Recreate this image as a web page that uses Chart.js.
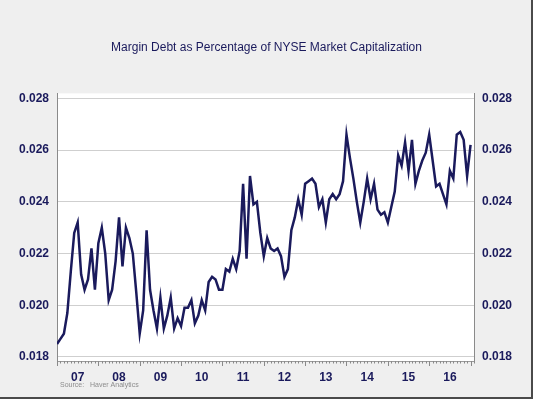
<!DOCTYPE html>
<html>
<head>
<meta charset="utf-8">
<script src="https://cdn.jsdelivr.net/npm/chart.js@4"></script>
<style>
  html, body { margin: 0; padding: 0; background: #efefef; }
  #chart { display: block; }
</style>
</head>
<body>
<canvas id="chart" width="533" height="399"></canvas>
<script>
// monthly margin debt / NYSE market cap, Jan 2007 .. Jan 2017
const startYear = 2007;
const marginDebt = [
  0.0185, 0.0187, 0.0189, 0.0197, 0.0213, 0.0228, 0.0232, 0.0212, 0.0206, 0.0210, 0.0222, 0.0206,
  0.0224, 0.0230, 0.0220, 0.0202, 0.0206, 0.0217, 0.0234, 0.0215, 0.0230, 0.0226, 0.0220, 0.0205,
  0.0189, 0.0198, 0.0229, 0.0206, 0.0198, 0.0191, 0.0203, 0.0191, 0.0196, 0.0203, 0.0191, 0.0195,
  0.0192, 0.0199, 0.0199, 0.0202, 0.0193, 0.0196, 0.0202, 0.0198, 0.0209, 0.0211, 0.0210, 0.0206,
  0.0206, 0.0214, 0.0213, 0.0218, 0.0214, 0.0221, 0.0247, 0.0218, 0.0250, 0.0239, 0.0240, 0.0228,
  0.0219, 0.0226, 0.0222, 0.0221, 0.0222, 0.0219, 0.0211, 0.0214, 0.0229, 0.0234, 0.0241, 0.0235,
  0.0247, 0.0248, 0.0249, 0.0247, 0.0238, 0.0241, 0.0232, 0.0241, 0.0243, 0.0241, 0.0243, 0.0248,
  0.0266, 0.0257, 0.0249, 0.0240, 0.0232, 0.0240, 0.0249, 0.0241, 0.0247, 0.0237, 0.0235, 0.0236,
  0.0232, 0.0238, 0.0244, 0.0258, 0.0254, 0.0263, 0.0252, 0.0264, 0.0247, 0.0252, 0.0256, 0.0259,
  0.0266, 0.0256, 0.0246, 0.0247, 0.0243, 0.0239, 0.0252, 0.0249, 0.0266, 0.0267, 0.0264, 0.0250,
  0.0262
];
const yearLabels = ['07', '08', '09', '10', '11', '12', '13', '14', '15', '16'];
const yTicks = [0.018, 0.020, 0.022, 0.024, 0.026, 0.028];

const navy = '#1a1a5c';
const points = marginDebt.map((v, i) => ({ x: i, y: v }));

// white plot box, month ticks under the axis, source note, outer frame
const frame = {
  id: 'frame',
  beforeDraw(chart) {
    const { ctx, chartArea: a } = chart;
    ctx.save();
    ctx.fillStyle = '#efefef';
    ctx.fillRect(0, 0, chart.width, chart.height);
    ctx.fillStyle = '#ffffff';
    ctx.fillRect(a.left, a.top, a.right - a.left, a.bottom - a.top);
    ctx.restore();
  },
  afterDraw(chart) {
    const { ctx, chartArea: a } = chart;
    const xs = chart.scales.x;
    ctx.save();
    ctx.strokeStyle = '#8a8a8a';
    ctx.lineWidth = 1;
    ctx.beginPath();
    for (let m = 0; m <= 121; m++) {
      const px = Math.round(xs.getPixelForValue(m)) + 0.5;
      const len = m % 12 === 0 ? 5 : 2.5;
      ctx.moveTo(px, a.bottom);
      ctx.lineTo(px, a.bottom + len);
    }
    ctx.stroke();

    ctx.fillStyle = '#8c8c8c';
    ctx.font = '7px "Liberation Sans", Arial, sans-serif';
    ctx.textBaseline = 'middle';
    ctx.fillText('Source:', 60, 385);
    ctx.fillText('Haver Analytics', 90, 385);

    ctx.strokeStyle = '#4a4a4a';
    ctx.lineWidth = 2;
    ctx.beginPath();
    ctx.moveTo(chart.width - 1, 0);
    ctx.lineTo(chart.width - 1, chart.height - 1);
    ctx.lineTo(0, chart.height - 1);
    ctx.stroke();
    ctx.restore();
  }
};

const tickFont = { family: '"Liberation Sans", Arial, sans-serif', size: 12, weight: 'bold' };
const setYTicks = (s) => { s.ticks = yTicks.map(v => ({ value: v })); };

new Chart(document.getElementById('chart'), {
  type: 'line',
  data: {
    datasets: [{
      data: points,
      borderColor: navy,
      borderWidth: 2.5,
      pointRadius: 0,
      tension: 0,
      yAxisID: 'y'
    }]
  },
  options: {
    responsive: false,
    animation: false,
    layout: { padding: 0 },
    plugins: {
      legend: { display: false },
      tooltip: { enabled: false },
      title: {
        display: true,
        text: 'Margin Debt as Percentage of NYSE Market Capitalization',
        color: navy,
        font: { family: '"Liberation Sans", Arial, sans-serif', size: 12, weight: 'normal' },
        padding: { top: 40, bottom: 39 }
      }
    },
    scales: {
      x: {
        type: 'linear',
        min: 0,
        max: 121,
        afterBuildTicks: (s) => { s.ticks = yearLabels.map((l, i) => ({ value: i * 12 + 6 })); },
        afterFit: (s) => { s.height = 38; },
        grid: { display: false },
        border: { display: true, color: '#9a9a9a' },
        ticks: {
          autoSkip: false,
          maxRotation: 0,
          padding: 1,
          color: navy,
          font: tickFont,
          callback: (v, i) => yearLabels[i]
        }
      },
      y: {
        position: 'left',
        min: 0.017845,
        max: 0.028195,
        afterBuildTicks: setYTicks,
        afterFit: (s) => { s.width = 57; },
        grid: { color: '#cfcfcf', drawTicks: false },
        border: { display: true, color: '#8a8a8a' },
        ticks: { padding: 8, color: navy, font: tickFont, callback: (v) => v.toFixed(3) }
      },
      y2: {
        position: 'right',
        min: 0.017845,
        max: 0.028195,
        afterBuildTicks: setYTicks,
        afterFit: (s) => { s.width = 59; },
        grid: { display: false, drawTicks: false },
        border: { display: true, color: '#8a8a8a' },
        ticks: { padding: 8, color: navy, font: tickFont, callback: (v) => v.toFixed(3) }
      }
    }
  },
  plugins: [frame]
});
</script>
</body>
</html>
